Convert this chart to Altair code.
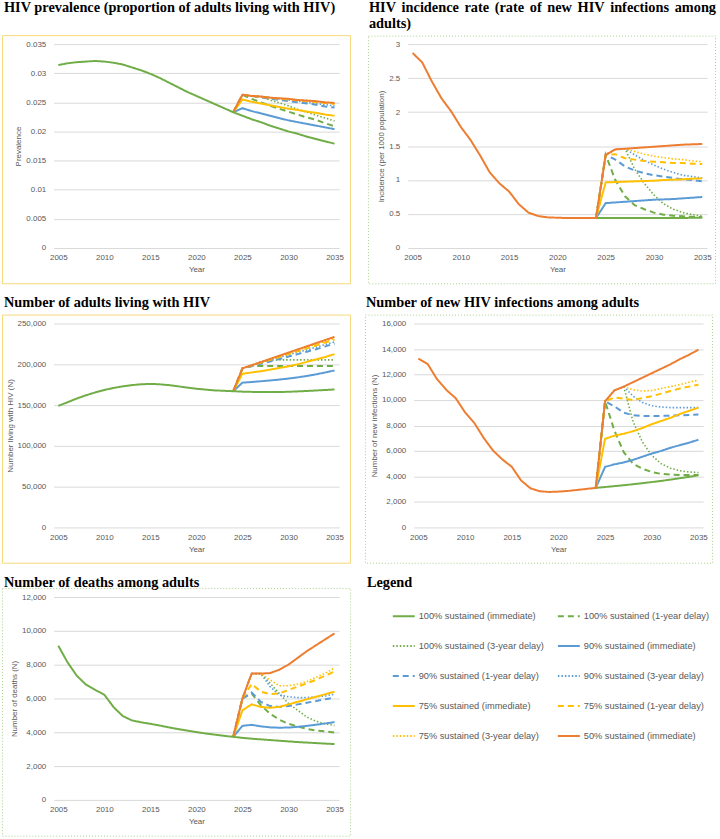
import altair as alt
import pandas as pd

# ---------------- categories / styles ----------------
SCENARIOS = [
    "100% sustained (immediate)", "100% sustained (1-year delay)",
    "100% sustained (3-year delay)", "90% sustained (immediate)",
    "90% sustained (1-year delay)", "90% sustained (3-year delay)",
    "75% sustained (immediate)", "75% sustained (1-year delay)",
    "75% sustained (3-year delay)", "50% sustained (immediate)",
]
LINE_COLORS = ["#70AD47", "#70AD47", "#70AD47", "#5B9BD5", "#5B9BD5",
               "#5B9BD5", "#FFC000", "#FFC000", "#FFC000", "#ED7D31"]
LINE_STYLES = ["solid", "dash", "dot", "solid", "dash", "dot",
               "solid", "dash", "dot", "solid"]
DASH_PATTERNS = {"solid": [1, 0], "dash": [6, 4], "dot": [1.5, 2]}

HIST_YEARS = list(range(2005, 2025))
PROJ_YEARS = list(range(2025, 2036))
X_TICKS = [2005, 2010, 2015, 2020, 2025, 2030, 2035]

# ---------------- HIV prevalence ----------------
PREV_HIST = [0.0314, 0.0317, 0.0319, 0.0320, 0.0321, 0.0320, 0.0318, 0.0315,
             0.0310, 0.0305, 0.0299, 0.0292, 0.0284, 0.0276, 0.0268, 0.0261,
             0.0254, 0.0247, 0.0240, 0.0233]
PREV_PROJ = [
    [0.0227, 0.0221, 0.0216, 0.0210, 0.0205, 0.0200, 0.0196, 0.0191, 0.0187, 0.0183, 0.0179],
    [0.0263, 0.0256, 0.0250, 0.0244, 0.0239, 0.0234, 0.0229, 0.0224, 0.0220, 0.0214, 0.0209],
    [0.0263, 0.0261, 0.0260, 0.0254, 0.0249, 0.0244, 0.0238, 0.0233, 0.0228, 0.0223, 0.0218],
    [0.0240, 0.0235, 0.0231, 0.0227, 0.0223, 0.0219, 0.0216, 0.0213, 0.0210, 0.0207, 0.0204],
    [0.0263, 0.0261, 0.0258, 0.0256, 0.0254, 0.0252, 0.0250, 0.0248, 0.0246, 0.0243, 0.0241],
    [0.0263, 0.0261, 0.0260, 0.0258, 0.0256, 0.0254, 0.0252, 0.0250, 0.0248, 0.0246, 0.0244],
    [0.0255, 0.0251, 0.0248, 0.0245, 0.0242, 0.0239, 0.0237, 0.0234, 0.0232, 0.0229, 0.0227],
    [0.0263, 0.0261, 0.0259, 0.0258, 0.0256, 0.0255, 0.0253, 0.0252, 0.0250, 0.0249, 0.0247],
    [0.0263, 0.0261, 0.0260, 0.0258, 0.0257, 0.0256, 0.0254, 0.0253, 0.0251, 0.0250, 0.0248],
    [0.0263, 0.0261, 0.0260, 0.0258, 0.0257, 0.0256, 0.0254, 0.0253, 0.0252, 0.0250, 0.0249],
]
PREV_TICKS = [0, 0.005, 0.01, 0.015, 0.02, 0.025, 0.03, 0.035]

# ---------------- HIV incidence rate ----------------
INC_HIST = [2.87, 2.73, 2.45, 2.20, 2.01, 1.78, 1.59, 1.36, 1.11, 0.95, 0.83,
            0.645, 0.52, 0.47, 0.45, 0.445, 0.44, 0.44, 0.44, 0.44]
INC_PROJ = [
    [0.44, 0.44, 0.44, 0.44, 0.44, 0.44, 0.44, 0.44, 0.44, 0.445, 0.445],
    [1.37, 1.00, 0.76, 0.63, 0.57, 0.52, 0.49, 0.475, 0.465, 0.458, 0.455],
    [1.37, 1.45, 1.46, 1.16, 0.95, 0.78, 0.65, 0.57, 0.52, 0.49, 0.47],
    [0.66, 0.67, 0.68, 0.69, 0.70, 0.71, 0.715, 0.72, 0.73, 0.74, 0.75],
    [1.37, 1.30, 1.20, 1.14, 1.10, 1.07, 1.05, 1.03, 1.01, 1.00, 0.98],
    [1.37, 1.45, 1.46, 1.37, 1.29, 1.22, 1.16, 1.11, 1.07, 1.05, 1.03],
    [0.965, 0.97, 0.975, 0.98, 0.985, 0.99, 1.00, 1.005, 1.01, 1.02, 1.025],
    [1.37, 1.38, 1.32, 1.30, 1.28, 1.27, 1.26, 1.25, 1.25, 1.24, 1.235],
    [1.37, 1.45, 1.46, 1.42, 1.38, 1.35, 1.33, 1.31, 1.30, 1.28, 1.27],
    [1.37, 1.45, 1.46, 1.47, 1.48, 1.49, 1.50, 1.51, 1.52, 1.525, 1.53],
]
INC_TICKS = [0, 0.5, 1, 1.5, 2, 2.5, 3]

# ---------------- Number living with HIV ----------------
PLHIV_HIST = [149000, 153500, 158000, 162000, 165500, 168500, 171000, 173000,
              174500, 175500, 176000, 175500, 174500, 173000, 171500, 170000,
              169000, 168000, 167500, 167000]
PLHIV_PROJ = [
    [166500, 166200, 166000, 165900, 166000, 166300, 166800, 167300, 167900, 168500, 169200],
    [195000, 198000, 198000, 198000, 198000, 198000, 198000, 198000, 198000, 198000, 198000],
    [195000, 198900, 202700, 205000, 205500, 205500, 205500, 205500, 205500, 205500, 205500],
    [177500, 178300, 179200, 180200, 181300, 182500, 184000, 185700, 187700, 190000, 192500],
    [195000, 197500, 200500, 203500, 206500, 209500, 212500, 215500, 218500, 222000, 225500],
    [195000, 198900, 202700, 205800, 208800, 211800, 214800, 217800, 221000, 224300, 227500],
    [188500, 190000, 191500, 193500, 195500, 197500, 200000, 203000, 206000, 209000, 212500],
    [195000, 198500, 202000, 205500, 209000, 212500, 216000, 219500, 223000, 226800, 230500],
    [195000, 198900, 202700, 206300, 209900, 213500, 217200, 220900, 224600, 228200, 232000],
    [195000, 198900, 202700, 206600, 210500, 214400, 218200, 222100, 226000, 229800, 233700],
]
PLHIV_TICKS = [0, 50000, 100000, 150000, 200000, 250000]

# ---------------- Number of new infections ----------------
NEWINF_HIST = [13240, 12820, 11630, 10790, 10140, 9030, 8190, 7020, 6030, 5330,
               4760, 3690, 3070, 2840, 2780, 2810, 2860, 2940, 3020, 3100]
NEWINF_PROJ = [
    [3170, 3240, 3310, 3390, 3470, 3560, 3650, 3750, 3860, 3970, 4090],
    [9900, 7600, 5900, 5000, 4600, 4350, 4200, 4150, 4120, 4120, 4120],
    [9900, 10750, 11050, 8300, 6700, 5650, 5000, 4650, 4450, 4350, 4300],
    [4750, 4950, 5100, 5300, 5550, 5800, 6000, 6250, 6450, 6650, 6880],
    [9900, 9500, 9000, 8800, 8750, 8750, 8750, 8770, 8800, 8830, 8870],
    [9900, 10750, 11050, 10300, 9800, 9550, 9450, 9400, 9400, 9400, 9400],
    [6950, 7200, 7350, 7550, 7800, 8100, 8350, 8600, 8900, 9150, 9400],
    [9900, 10200, 10100, 10000, 10150, 10300, 10500, 10700, 10900, 11050, 11200],
    [9900, 10750, 11050, 10800, 10700, 10750, 10900, 11050, 11200, 11400, 11550],
    [9900, 10750, 11050, 11400, 11750, 12100, 12450, 12800, 13200, 13550, 13950],
]
NEWINF_TICKS = [0, 2000, 4000, 6000, 8000, 10000, 12000, 14000, 16000]

# ---------------- Number of deaths ----------------
DEATH_HIST = [9120, 8140, 7350, 6820, 6510, 6220, 5490, 4960, 4700, 4590,
              4500, 4400, 4290, 4190, 4100, 4010, 3930, 3860, 3790, 3730]
DEATH_PROJ = [
    [3670, 3620, 3580, 3540, 3500, 3460, 3420, 3390, 3360, 3330, 3300],
    [6000, 6300, 5600, 5100, 4750, 4500, 4350, 4200, 4100, 4050, 3980],
    [6000, 7470, 7470, 6900, 6300, 5700, 5300, 4900, 4650, 4500, 4400],
    [4380, 4440, 4350, 4290, 4270, 4280, 4320, 4380, 4450, 4520, 4600],
    [6000, 6350, 5800, 5550, 5500, 5550, 5650, 5750, 5850, 5950, 6050],
    [6000, 7470, 7470, 6700, 6200, 6100, 6050, 6050, 6100, 6150, 6250],
    [5300, 5650, 5500, 5450, 5500, 5650, 5800, 5950, 6100, 6250, 6400],
    [6000, 6850, 6400, 6250, 6300, 6500, 6700, 6900, 7100, 7350, 7600],
    [6000, 7470, 7470, 7100, 6750, 6750, 6850, 7000, 7250, 7500, 7800],
    [6000, 7470, 7470, 7500, 7700, 8000, 8400, 8800, 9150, 9500, 9850],
]
DEATH_TICKS = [0, 2000, 4000, 6000, 8000, 10000, 12000]

YELLOW_BORDER = "#F6D97A"
GREEN_BORDER = "#A9D08E"
SERIF = "Liberation Serif"
SANS = "Liberation Sans"
TITLE_SIZE = 14.4

# Times/Liberation Serif Bold advance widths (per 1000 em) used to justify
# the first line of the incidence title across its box, as in the original.
SERIF_BOLD_W = {"H": 778, "I": 389, "V": 722, "i": 278, "n": 556, "c": 444,
                "d": 556, "e": 444, "r": 444, "a": 500, "t": 333, "(": 333,
                "o": 500, "f": 333, "w": 722, "s": 389, "m": 833, "g": 500}
INC_TITLE_LINE1 = "HIV incidence rate (rate of new HIV infections among"
INC_TITLE_LINE2 = "adults)"

# legend position is relative to the plot origin of the first panel (53, 44)
LEGEND = alt.Legend(
    orient="none", legendX=340, legendY=563, columns=2, direction="horizontal",
    title=None, symbolType="stroke", symbolSize=484, symbolStrokeWidth=2,
    labelFont=SANS, labelFontSize=9.3, labelColor="#595959",
    labelOffset=3, rowPadding=12.2, columnPadding=9, labelLimit=300, padding=0,
)


def build_frame(hist, proj, top):
    rows = []
    for i, name in enumerate(SCENARIOS):
        if i == top:
            ys, vs = HIST_YEARS + PROJ_YEARS, hist + proj[i]
            layer = "top"
        else:
            ys, vs = [HIST_YEARS[-1]] + PROJ_YEARS, [hist[-1]] + proj[i]
            layer = LINE_STYLES[i]
        for yr, v in zip(ys, vs):
            rows.append({"year": yr, "value": v, "scenario": name, "layer": layer})
    return pd.DataFrame(rows)


def heading(txt, x, y):
    return alt.Chart(alt.Data(values=[{"k": 1}])).mark_text(
        align="left", baseline="alphabetic", font=SERIF, fontSize=TITLE_SIZE,
        fontWeight="bold", color="black",
    ).encode(x=alt.value(x), y=alt.value(y), text=alt.value(txt))


def justified_heading(line, x0, x1, y):
    words = line.split(" ")
    widths = [sum(SERIF_BOLD_W[c] for c in w) * TITLE_SIZE / 1000 for w in words]
    gap = (x1 - x0 - sum(widths)) / (len(words) - 1)
    vals, x = [], x0
    for w, wd in zip(words, widths):
        vals.append({"word": w, "px": x})
        x += wd + gap
    return alt.Chart(alt.Data(values=vals)).mark_text(
        align="left", baseline="alphabetic", font=SERIF, fontSize=TITLE_SIZE,
        fontWeight="bold", color="black",
    ).encode(x=alt.X("px:Q", scale=None), y=alt.value(y), text="word:N")


def panel(df, ytitle, yticks, yfmt, W, H, cell, border, dotted, texts, extra=None):
    xenc = alt.X("year:Q",
                 scale=alt.Scale(domain=[2004.5, 2035.5], nice=False, zero=False),
                 axis=alt.Axis(values=X_TICKS, format="d", title="Year", grid=False,
                               labelFlush=False))
    yenc = alt.Y("value:Q",
                 scale=alt.Scale(domain=[0, yticks[-1]], nice=False, zero=True),
                 axis=alt.Axis(values=yticks, format=yfmt, title=ytitle,
                               labelFlush=False))
    col = alt.Color("scenario:N",
                    scale=alt.Scale(domain=SCENARIOS, range=LINE_COLORS),
                    legend=LEGEND)
    dash = alt.StrokeDash("scenario:N",
                          scale=alt.Scale(domain=SCENARIOS,
                                          range=[DASH_PATTERNS[s] for s in LINE_STYLES]),
                          legend=LEGEND)
    base = alt.Chart(df).encode(x=xenc, y=yenc, color=col, strokeDash=dash)
    dots = base.transform_filter("datum.layer == 'dot'").mark_line(strokeWidth=1.6)
    dashes = base.transform_filter("datum.layer == 'dash'").mark_line(strokeWidth=2)
    solids = base.transform_filter("datum.layer == 'solid'").mark_line(strokeWidth=2)
    top = base.transform_filter("datum.layer == 'top'").mark_line(strokeWidth=2)

    one = alt.Data(values=[{"k": 1}])
    cell_rect = alt.Chart(one).mark_rect(opacity=0).encode(
        x=alt.value(cell[0]), x2=alt.value(cell[1]),
        y=alt.value(cell[2]), y2=alt.value(cell[3]))
    if dotted:
        bmark = alt.Chart(one).mark_rect(filled=False, stroke=GREEN_BORDER,
                                         strokeWidth=1, strokeDash=[1, 2])
    else:
        bmark = alt.Chart(one).mark_rect(filled=False, stroke=YELLOW_BORDER,
                                         strokeWidth=1)
    border_rect = bmark.encode(
        x=alt.value(border[0]), x2=alt.value(border[1]),
        y=alt.value(border[2]), y2=alt.value(border[3]))
    layers = [cell_rect, border_rect, dots, dashes, solids, top]
    layers += [heading(t, x, y) for (t, x, y) in texts]
    if extra is not None:
        layers.append(extra)
    return alt.layer(*layers).properties(width=W, height=H)


p1 = panel(build_frame(PREV_HIST, PREV_PROJ, 0), "Prevalence", PREV_TICKS, "~g",
           287, 205, (-53, 313, -44, 242), (-51.5, 298.5, -8.5, 241), False,
           [("HIV prevalence (proportion of adults living with HIV)", -50, -31.8)])
p2 = panel(build_frame(INC_HIST, INC_PROJ, 9), "Incidence (per 1000 population)",
           INC_TICKS, "~g", 301, 205, (-47, 313, -44, 242), (-39.5, 309.5, -8, 241),
           True, [(INC_TITLE_LINE2, -39, -16.2)],
           extra=justified_heading(INC_TITLE_LINE1, -39, 310, -32))
p3 = panel(build_frame(PLHIV_HIST, PLHIV_PROJ, 0), "Number living with HIV (N)",
           PLHIV_TICKS, ",.0f", 287, 205, (-53, 304, -43, 242), (-51.5, 298.5, -8.5, 241),
           False, [("Number of adults living with HIV", -50, -17)])
p4 = panel(build_frame(NEWINF_HIST, NEWINF_PROJ, 9), "Number of new infections (N)",
           NEWINF_TICKS, ",.0f", 291, 205, (-56, 304, -43, 242), (-48.5, 300.5, -8.5, 241),
           True, [("Number of new HIV infections among adults", -48, -17)])
p5 = panel(build_frame(DEATH_HIST, DEATH_PROJ, 0), "Number of deaths (N)",
           DEATH_TICKS, ",.0f", 287, 204, (-53, 667, -36, 243), (-51.5, 298.5, -8.5, 240.5),
           True, [("Number of deaths among adults", -50, -10.5),
                  ("Legend", 315, -10.5)])

top_rows = alt.vconcat(
    alt.hconcat(p1, p2, spacing=-6),
    alt.hconcat(p3, p4, spacing=0),
    spacing=-6,
)
chart = alt.vconcat(top_rows, p5, spacing=-5).properties(
    padding={"left": 0, "top": -3, "right": 0, "bottom": 0}, background="white"
).configure_view(
    stroke="transparent"
).configure_axis(
    labelFont=SANS, labelFontSize=8, labelColor="#595959",
    titleFont=SANS, titleFontSize=8, titleFontWeight="normal", titleColor="#595959",
    domain=False, ticks=False, gridColor="#D9D9D9", gridWidth=1, labelOverlap=False,
).configure_axisX(labelPadding=6, titlePadding=4).configure_axisY(
    labelPadding=8, titlePadding=3)

chart.save("out.html", embed_options={"renderer": "svg", "actions": False})
